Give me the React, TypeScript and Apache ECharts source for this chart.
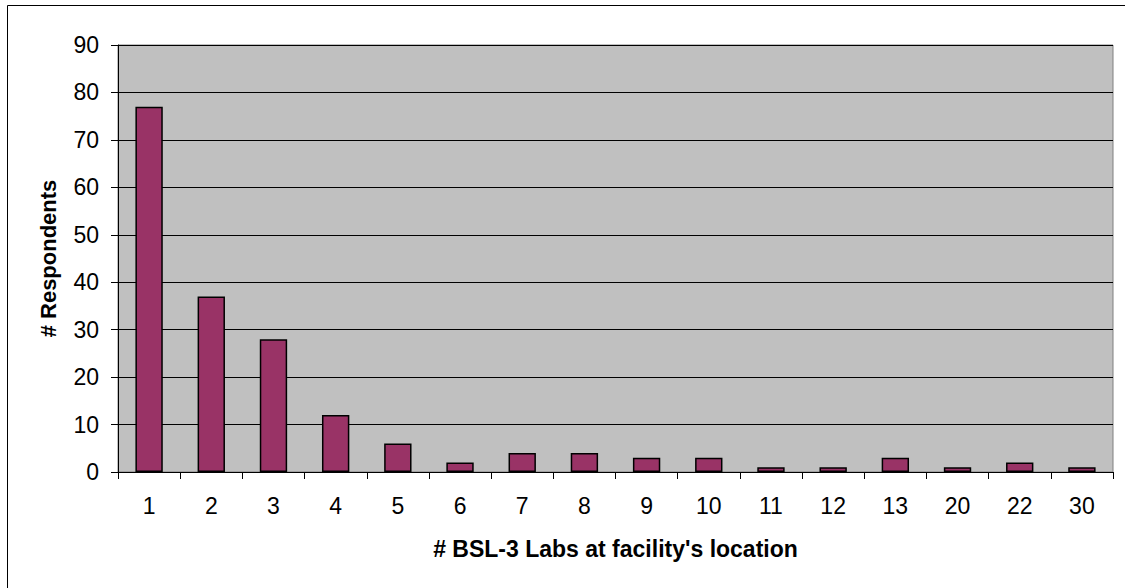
import React, { useEffect, useRef } from "react";
import * as echarts from "echarts";

const categories = ["1", "2", "3", "4", "5", "6", "7", "8", "9", "10", "11", "12", "13", "20", "22", "30"];
const respondents = [77, 37, 28, 12, 6, 2, 4, 4, 3, 3, 1, 1, 3, 1, 2, 1];
const yMin = 0;
const yMax = 90;
const yStep = 10;

export default function App() {
  const ref = useRef<HTMLDivElement>(null);
  useEffect(() => {
    if (!ref.current) return;
    const chart = echarts.init(ref.current, null, { renderer: "svg" });
    const font = "'Liberation Sans', Arial, sans-serif";
    chart.setOption({
      animation: false,
      backgroundColor: "#ffffff",
      graphic: [
        {
          type: "rect",
          shape: { x: 7.5, y: 5.5, width: 1130, height: 600 },
          style: { fill: "none", stroke: "#000", lineWidth: 1 },
          silent: true,
        },
      ],
      grid: {
        left: 118,
        right: 12,
        top: 45,
        bottom: 116,
        show: true,
        backgroundColor: "#C0C0C0",
        borderColor: "#808080",
        borderWidth: 1,
      },
      xAxis: {
        type: "category",
        data: categories,
        name: "# BSL-3 Labs at facility's location",
        nameLocation: "middle",
        nameGap: 65,
        nameTextStyle: { fontFamily: font, fontSize: 23, fontWeight: "bold", color: "#000" },
        axisLine: { lineStyle: { color: "#000", width: 1 } },
        axisTick: { show: true, alignWithLabel: false, length: 7, inside: false, lineStyle: { color: "#000" } },
        axisLabel: { fontFamily: font, fontSize: 23, color: "#000", margin: 22 },
        splitLine: { show: false },
      },
      yAxis: {
        type: "value",
        min: yMin,
        max: yMax,
        interval: yStep,
        name: "# Respondents",
        nameLocation: "middle",
        nameGap: 59,
        nameRotate: 90,
        nameTextStyle: { fontFamily: font, fontSize: 22, fontWeight: "bold", color: "#000" },
        axisLine: { show: true, lineStyle: { color: "#000", width: 1 } },
        axisTick: { show: true, length: 7, lineStyle: { color: "#000" } },
        axisLabel: { fontFamily: font, fontSize: 23, color: "#000", margin: 19 },
        splitLine: { show: true, lineStyle: { color: "#000", width: 1 } },
      },
      series: [
        {
          type: "bar",
          data: respondents,
          barWidth: "44%",
          itemStyle: { color: "#993366", borderColor: "#000", borderWidth: 1.5 },
        },
      ],
    });
    return () => chart.dispose();
  }, []);
  return (
    <div
      ref={ref}
      style={{ position: "fixed", left: 0, top: 0, width: 1125, height: 588 }}
    />
  );
}
